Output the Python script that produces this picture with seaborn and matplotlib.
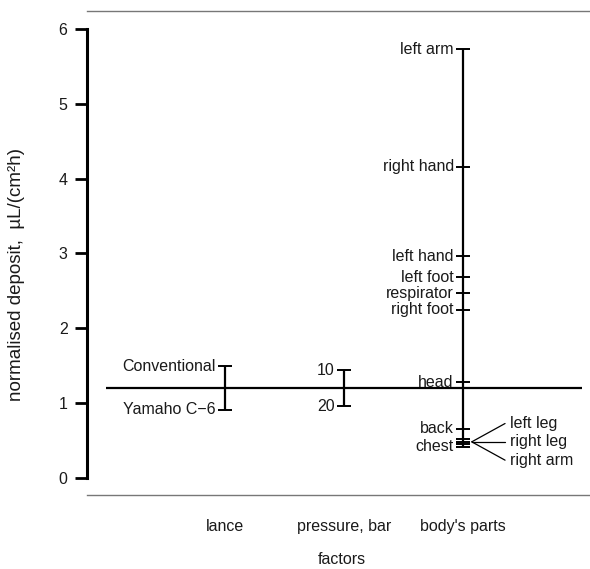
import matplotlib
matplotlib.use("Agg")
import matplotlib.pyplot as plt
import seaborn as sns
import pandas as pd

# factor levels and their mean deposits
factors = ["lance", "pressure, bar", "body's parts"]
lance_levels = ["Conventional", "Yamaho C\u22126"]
lance_values = [1.49, 0.91]
pressure_levels = ["10", "20"]
pressure_values = [1.44, 0.96]
body_levels = ["left arm", "right hand", "left hand", "left foot", "respirator",
               "right foot", "head", "back", "left leg", "right leg",
               "right arm", "chest"]
body_values = [5.73, 4.16, 2.96, 2.68, 2.47, 2.25, 1.28, 0.66, 0.52, 0.48,
               0.45, 0.42]
grand_mean = 1.2
# levels too close together get their labels on the right with a fan of lines
fan_levels = ["left leg", "right leg", "right arm"]

rows = []
for f, levs, vals in zip(factors,
                         [lance_levels, pressure_levels, body_levels],
                         [lance_values, pressure_values, body_values]):
    for l, v in zip(levs, vals):
        rows.append({"factor": f, "level": l, "deposit": v})
df = pd.DataFrame(rows)

sns.set_theme(style="white")
plt.rcParams["font.family"] = ["Liberation Sans", "DejaVu Sans"]
txt = "#1a1a1a"
fs = 11.5

fig = plt.figure(figsize=(5.9, 5.69), dpi=100)
ax = fig.add_axes([87 / 590, 74 / 569, 1 - 87 / 590 + 0.01, 484 / 569])

# vertical range lines for each factor
xpos = {f: i for i, f in enumerate(factors)}
for f, g in df.groupby("factor", sort=False):
    ax.vlines(xpos[f], g["deposit"].min(), g["deposit"].max(),
              color="black", lw=1.6, zorder=2)

# tick marks at every level
sns.scatterplot(data=df, x="factor", y="deposit", marker="_", s=110,
                color="black", linewidth=1.4, ax=ax, zorder=3, legend=False)

# grand mean
ax.hlines(grand_mean, -1.0, 3.0, color="black", lw=1.6, zorder=1)

# level labels
for _, r in df.iterrows():
    x = xpos[r["factor"]]
    if r["level"] in fan_levels:
        continue
    ax.text(x - 0.075, r["deposit"], r["level"], ha="right", va="center",
            fontsize=fs, color=txt)

fan = df[df["level"].isin(fan_levels)]
fan_x0 = xpos["body's parts"] + 0.076
fan_y0 = fan["deposit"].mean()
for k, (_, r) in enumerate(fan.iterrows()):
    ty = fan_y0 + (1 - k) * 0.245
    ax.plot([fan_x0, fan_x0 + 0.28], [fan_y0, ty], color="black", lw=0.9)
    ax.text(fan_x0 + 0.32, ty, r["level"], ha="left", va="center",
            fontsize=fs, color=txt)

ax.set_xlim(-1.16, 3.12)
ax.set_ylim(-0.227, 6.24)
ax.set_yticks(range(0, 7))
ax.set_xticks(range(len(factors)))
ax.set_xticklabels(factors, fontsize=fs, color=txt)
ax.tick_params(axis="x", length=0, pad=17)
ax.tick_params(axis="y", length=9, width=2, color="black", labelsize=fs,
               labelcolor=txt, pad=5, left=True)
ax.set_xlabel("factors", fontsize=fs, color=txt, labelpad=13)
ax.set_ylabel("normalised deposit,  \u00b5L/(cm\u00b2h)", fontsize=13.5,
              color=txt)
ax.yaxis.set_label_coords(-0.122, 0.455)

ax.spines["left"].set_bounds(0, 6)
ax.spines["left"].set_linewidth(2.2)
ax.spines["left"].set_color("black")
ax.spines["right"].set_visible(False)
for s in ["top", "bottom"]:
    ax.spines[s].set_color("#777777")
    ax.spines[s].set_linewidth(1.0)

fig.savefig("out.png", dpi=100)
